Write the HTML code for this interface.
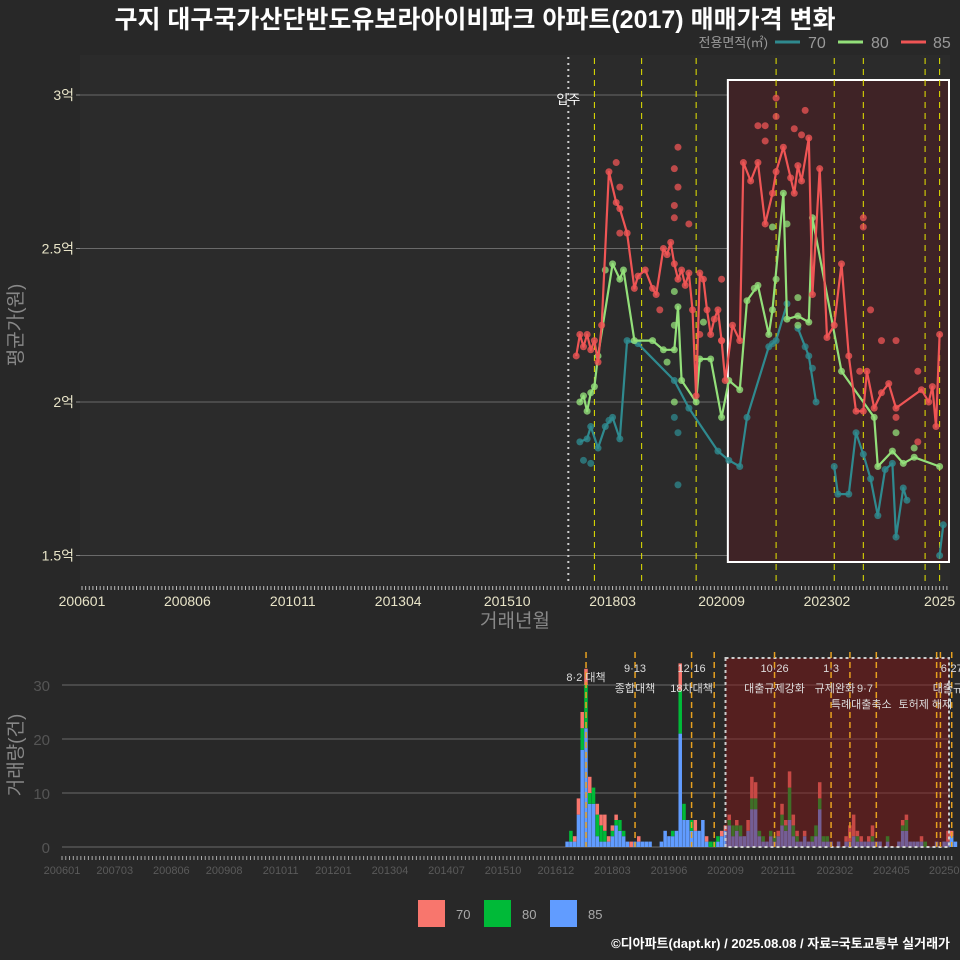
<!DOCTYPE html>
<html><head><meta charset="utf-8">
<style>
html,body{margin:0;padding:0;background:#282828;}
svg{display:block;font-family:"Liberation Sans","Noto Sans CJK KR",sans-serif;}
</style></head>
<body>
<svg id="chart" width="960" height="960" viewBox="0 0 960 960" xmlns="http://www.w3.org/2000/svg">
<rect x="0" y="0" width="960" height="960" fill="#282828"/>
<text x="475" y="28" text-anchor="middle" fill="#ffffff" font-size="25" font-weight="bold">구지 대구국가산단반도유보라아이비파크 아파트(2017) 매매가격 변화</text>
<g>
<text x="768" y="47" text-anchor="end" fill="#999" font-size="13">전용면적(㎡)</text>
<line x1="775" y1="42" x2="800" y2="42" stroke="#2f8a8f" stroke-width="3"/>
<text x="808" y="48" fill="#999" font-size="16">70</text>
<line x1="838" y1="42" x2="863" y2="42" stroke="#93e07a" stroke-width="3"/>
<text x="871" y="48" fill="#999" font-size="16">80</text>
<line x1="901" y1="42" x2="926" y2="42" stroke="#ef5555" stroke-width="3"/>
<text x="933" y="48" fill="#999" font-size="16">85</text>
</g>
<g id="topPanel"></g>
<g id="botPanel"></g>
<text transform="translate(22,325) rotate(-90)" text-anchor="middle" fill="#888" font-size="19">평균가(원)</text>
<text x="515" y="627" text-anchor="middle" fill="#888" font-size="19">거래년월</text>
<text transform="translate(22,755) rotate(-90)" text-anchor="middle" fill="#888" font-size="19">거래량(건)</text>
<g>
<rect x="418" y="900" width="27" height="27" fill="#f8766d"/>
<text x="456" y="919" fill="#aaa" font-size="13">70</text>
<rect x="484" y="900" width="27" height="27" fill="#00ba38"/>
<text x="522" y="919" fill="#aaa" font-size="13">80</text>
<rect x="550" y="900" width="27" height="27" fill="#619cff"/>
<text x="588" y="919" fill="#aaa" font-size="13">85</text>
</g>
<text x="950" y="948" text-anchor="end" fill="#ffffff" font-size="13" font-weight="bold">©디아파트(dapt.kr) / 2025.08.08 / 자료=국토교통부 실거래가</text>
</svg>
<script>
// ---------- data ----------
const redMonths = [201705,201706,201707,201708,201709,201710,201711,201712,201802,201804,201805,201807,201809,201810,201812,201902,201903,201905,201906,201907,201908,201909,201910,201911,201912,202001,202002,202003,202004,202005,202006,202007,202008,202009,202010,202012,202102,202103,202105,202107,202109,202111,202112,202202,202204,202205,202206,202207,202209,202210,202212,202302,202304,202306,202308,202310,202312,202401,202403,202405,202407,202409,202504,202506,202507,202508,202509];
const redValues = [2.15,2.22,2.18,2.22,2.17,2.20,2.13,2.25,2.75,2.65,2.63,2.55,2.37,2.41,2.43,2.37,2.35,2.50,2.48,2.52,2.45,2.40,2.43,2.38,2.42,2.30,2.02,2.42,2.40,2.30,2.22,2.27,2.30,2.20,2.07,2.25,2.20,2.78,2.72,2.78,2.58,2.68,2.75,2.83,2.73,2.68,2.77,2.72,2.86,2.35,2.76,2.21,2.25,2.45,2.15,1.97,1.97,2.10,1.98,2.03,2.06,1.98,2.04,2.00,2.05,1.92,2.22];
const greenMonths = [201706,201707,201708,201709,201710,201711,201803,201805,201806,201809,201902,201905,201908,201909,201910,202002,202003,202006,202009,202011,202102,202104,202107,202110,202111,202202,202203,202206,202209,202210,202306,202403,202404,202408,202411,202502,202509];
const greenValues = [2.00,2.02,1.97,2.03,2.05,2.15,2.45,2.40,2.43,2.20,2.20,2.17,2.17,2.31,2.07,2.00,2.14,2.14,1.95,2.07,2.04,2.33,2.38,2.22,2.30,2.68,2.27,2.28,2.26,2.60,2.10,1.95,1.79,1.84,1.80,1.82,1.79];
const tealMonths = [201706,201708,201709,201711,201801,201803,201805,201807,201810,201908,201912,202008,202011,202102,202104,202110,202112,202203,202205,202206,202209,202211,202303,202304,202305,202308,202310,202312,202402,202404,202406,202408,202409,202411,202412,202508,202509,202510];
const tealValues = [1.87,1.88,1.92,1.85,1.92,1.95,1.88,2.20,2.19,2.07,1.98,1.84,1.81,1.79,1.95,2.18,2.20,2.32,null,2.24,2.15,2.00,null,1.79,1.70,1.70,1.90,1.83,1.75,1.63,1.78,1.80,1.56,1.72,1.68,null,1.50,1.60];
const redDotMonths = [201804,201805,201805,201909,201908,201909,201908,201908,201912,202107,202109,202112,202112,202109,202208,202205,202207,202312,202312,202402,202405,202409,202409,202503,202503,201904,202009,202009,202003,202311];
const redDotValues = [2.78,2.70,2.55,2.83,2.76,2.70,2.64,2.60,2.58,2.90,2.90,2.99,2.93,2.85,2.95,2.89,2.87,2.60,2.57,2.30,2.20,2.20,1.95,1.87,2.10,2.30,2.40,2.20,2.22,2.10];
const greenDotMonths = [201801,201908,201908,201906,201908,202004,202106,202111,202203,202206,202206,202112,202409,202502];
const greenDotValues = [2.43,2.36,2.25,2.13,2.00,2.26,2.37,2.57,2.58,2.34,2.25,2.40,1.90,1.85];
const tealDotMonths = [201909,201908,201909,201707,201709,201802,202208,202210,202111];
const tealDotValues = [1.73,1.95,1.90,1.81,1.80,1.94,2.18,2.11,2.19];
const priceTicks = [1.5,2,2.5,3];
const priceTickLabels = ["1.5억","2억","2.5억","3억"];
const topXLabels = ["200601","200806","201011","201304","201510","201803","202009","202302","2025"];
const topXLabelMonths = [200601,200806,201011,201304,201510,201803,202009,202302,202509];
const policyLinesTop = [201710,201811,202002,202112,202304,202312,202505,202509];
const moveInMonth = 201702;

const barStart = 201703;
const vol85 = [1,1,1,6,18,22,8,8,2,1,1,1,2,4,3,2,1,0,1,1,1,1,1,0,0,1,3,2,2,3,21,5,5,3,3,3,5,1,0,0,1,2,3,4,2,3,2,2,3,7,7,2,1,1,2,1,2,4,3,5,2,1,1,2,1,1,2,7,1,1,1,0,1,0,1,1,2,1,1,1,1,1,1,1,0,1,0,0,1,3,3,1,1,1,1,0,0,0,1,0,1,1,2,1];
const vol80 = [0,2,0,0,4,8,2,3,4,3,2,0,1,1,2,1,0,0,0,0,0,0,0,0,0,0,0,0,1,0,8,3,0,2,0,0,0,0,1,1,1,0,0,1,2,1,2,0,0,2,2,1,1,0,1,1,0,2,1,6,2,1,0,0,0,1,2,2,1,1,0,0,0,0,0,0,0,1,0,0,0,1,0,0,0,1,0,0,0,1,2,0,0,0,0,1,0,0,0,0,0,0,0,0];
const vol70 = [0,0,1,3,3,3,3,0,2,2,3,1,1,1,0,0,0,1,0,1,0,0,0,0,0,0,0,0,0,0,5,0,0,0,2,0,0,1,0,0,0,1,1,1,0,1,0,0,2,4,3,0,0,0,0,0,1,2,1,3,2,1,0,1,0,0,0,3,0,0,0,0,0,0,1,3,4,1,1,0,1,2,0,0,0,0,0,0,0,1,1,0,0,0,1,0,0,0,0,0,0,2,1,0];
const volTicks = [0,10,20,30];
const botXLabels = ["200601","200703","200806","200908","201011","201201","201304","201407","201510","201612","201803","201906","202009","202111","202302","202405","20250"];
const botXLabelMonths = [200601,200703,200806,200908,201011,201201,201304,201407,201510,201612,201803,201906,202009,202111,202302,202405,202507];
const policyLinesBot = [201708,201809,201912,202006,202110,202301,202306,202401,202505,202506,202509];
const policyLabelText = ["8·2 대책","9·13","종합대책","12·16","18차대책","10·26","대출규제강화","1·3","규제완화","9·7","특례대출축소","토허제 해제","6·27","대출규"];
const policyLabelMonths = [201708,201809,201809,201912,201912,202110,202110,202301,202302,202310,202309,202502,202509,202508];
const policyLabelRows = [3,0,1,0,1,0,1,0,1,1,2,2,0,1];

// ---------- scales ----------
const NS='http://www.w3.org/2000/svg';
function mi(ym){return (Math.floor(ym/100)-2006)*12 + (ym%100-1);}
function xTop(ym){return 82 + mi(ym)*3.634;}
function yTop(v){return 402 - (v-2)*307;}
function xBot(ym){return 62 + mi(ym)*3.77;}
function yBot(c){return 847 - c*5.4;}
function el(tag,attrs,parent){const e=document.createElementNS(NS,tag);for(const k in attrs)e.setAttribute(k,attrs[k]);parent.appendChild(e);return e;}
function addMonths(ym,k){let m=mi(ym)+k;return (2006+Math.floor(m/12))*100+(m%12)+1;}

const topG=document.getElementById('topPanel');
const botG=document.getElementById('botPanel');
const svgRoot=document.getElementById('chart');
const defs=el('defs',{},svgRoot);
const cp=el('clipPath',{id:'clipTop'},defs);
el('rect',{x:80,y:55,width:870,height:530},cp);

let r=el('rect',{x:80,y:55,width:870,height:530,fill:'#2b2b2b'},topG);


priceTicks.forEach((t,i)=>{
  let g=el('line',{x1:80,x2:950,y1:yTop(t),y2:yTop(t),stroke:'#6a6a6a','stroke-width':1},topG);
  
  
  let tk=el('line',{x1:76,x2:80,y1:yTop(t),y2:yTop(t),stroke:'#888'},topG);
  
  
  let tx=el('text',{x:74,y:yTop(t)+5,'text-anchor':'end',fill:'#e8e4c8','font-size':14},topG);
  tx.textContent=priceTickLabels[i];
  
  
});
let hl=el('rect',{x:xTop(202011)-1,y:80,width:949-xTop(202011)+1,height:482,fill:'#3f2326',stroke:'#ffffff','stroke-width':2},topG);


let mv=el('line',{x1:xTop(moveInMonth)+3,x2:xTop(moveInMonth)+3,y1:57,y2:585,stroke:'#cccccc','stroke-width':2,'stroke-dasharray':'2,4'},topG);


let mvt=el('text',{x:xTop(moveInMonth)+3,y:104,'text-anchor':'middle',fill:'#fff','font-size':13},topG);
mvt.textContent='입주';


policyLinesTop.forEach(p=>{
  let l=el('line',{x1:xTop(p),x2:xTop(p),y1:58,y2:585,stroke:'#e6e600','stroke-width':1,'stroke-dasharray':'6,5'},topG);
  
  
});
const dataG=el('g',{'clip-path':'url(#clipTop)'},topG);
function series(months,vals,color,name,dotM,dotV){
  dotM.forEach((m,i)=>{
    let c=el('circle',{cx:xTop(m),cy:yTop(dotV[i]),r:3.5,fill:color,'fill-opacity':0.75},dataG);
    
    
  });
  let d='',pen=false;
  months.forEach((m,i)=>{
    const v=vals[i];
    if(v===null){pen=false;return;}
    d+=(pen?'L':'M')+xTop(m).toFixed(1)+','+yTop(v).toFixed(1);pen=true;
  });
  let p=el('path',{d:d,fill:'none',stroke:color,'stroke-width':2.2,'stroke-linejoin':'round'},dataG);
  
  
  months.forEach((m,i)=>{
    if(vals[i]===null)return;
    let c=el('circle',{cx:xTop(m),cy:yTop(vals[i]),r:3.5,fill:color,'fill-opacity':0.8},dataG);
    
    
  });
}
series(tealMonths,tealValues,'#2f8a8f','series-70',tealDotMonths,tealDotValues);
series(greenMonths,greenValues,'#93e07a','series-80',greenDotMonths,greenDotValues);
series(redMonths,redValues,'#ef5555','series-85',redDotMonths,redDotValues);
for(let k=0;k<=238;k++){
  let t=el('line',{x1:82+k*3.634,x2:82+k*3.634,y1:586,y2:590,stroke:'#bbb','stroke-width':1},topG);
  
  
}
topXLabels.forEach((s,i)=>{
  let t=el('text',{x:xTop(topXLabelMonths[i]),y:606,'text-anchor':'middle',fill:'#e8e4c8','font-size':14},topG);
  t.textContent=s;
  
  
});

// ---------- bottom panel ----------
volTicks.forEach(t=>{
  let g=el('line',{x1:62,x2:950,y1:yBot(t),y2:yBot(t),stroke:'#6a6a6a','stroke-width':1},botG);
  
  
  let tx=el('text',{x:50,y:yBot(t)+6,'text-anchor':'end',fill:'#555','font-size':15},botG);
  tx.textContent=t;
  
  
});
vol85.forEach((b,i)=>{
  const m=addMonths(barStart,i);
  const x=xBot(m)-1.8;
  const g=vol80[i], rr=vol70[i];
  if(b>0){let e=el('rect',{x:x,y:yBot(b),width:3.5,height:b*5.4,fill:'#619cff'},botG);
    
    }
  if(g>0){let e=el('rect',{x:x,y:yBot(b+g),width:3.5,height:g*5.4,fill:'#00ba38'},botG);
    
    }
  if(rr>0){let e=el('rect',{x:x,y:yBot(b+g+rr),width:3.5,height:rr*5.4,fill:'#f8766d'},botG);
    
    }
});
let hb=el('rect',{x:xBot(202009),y:658,width:949-xBot(202009),height:189,fill:'rgba(140,20,20,0.45)',stroke:'#cccccc','stroke-width':2,'stroke-dasharray':'3,3'},botG);


policyLinesBot.forEach(p=>{
  let l=el('line',{x1:xBot(p),x2:xBot(p),y1:652,y2:847,stroke:'#e6a020','stroke-width':1.5,'stroke-dasharray':'6,4'},botG);
  
  
});
policyLabelText.forEach((s,i)=>{
  const row=policyLabelRows[i];
  const y=[672,692,708,681][row];
  let t=el('text',{x:xBot(policyLabelMonths[i]),y:y,'text-anchor':'middle',fill:'#dddddd','font-size':11},botG);
  t.textContent=s;
  
  
});
for(let k=0;k<=236;k++){
  let t=el('line',{x1:62+k*3.77,x2:62+k*3.77,y1:856,y2:860,stroke:'#aaa','stroke-width':1},botG);
  
  
}
botXLabels.forEach((s,i)=>{
  let t=el('text',{x:xBot(botXLabelMonths[i]),y:874,'text-anchor':'middle',fill:'#5a5a5a','font-size':11},botG);
  t.textContent=s;
  
  
});
</script>
</body></html>
